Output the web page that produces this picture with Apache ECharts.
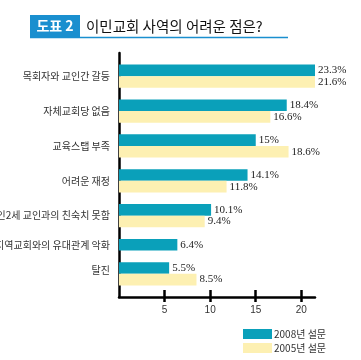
<!DOCTYPE html>
<html>
<head>
<meta charset="utf-8">
<script src="https://cdn.jsdelivr.net/npm/echarts@6/dist/echarts.min.js"></script>
<style>html,body{margin:0;padding:0;background:#fff;}#c{width:361px;height:360px;}</style>
</head>
<body>
<div id="c"></div>
<script>
var categories = ['목회자와 교인간 갈등', '자체교회당 없음', '교육스탭 부족', '어려운 재정', '한인2세 교인과의 친숙치 못함', '지역교회와의 유대관계 악화', '탈진'];
var values2008 = [23.3, 18.4, 15, 14.1, 10.1, 6.4, 5.5];
var values2005 = [21.6, 16.6, 18.6, 11.8, 9.4, null, 8.5];
var seriesNames = ['2008년 설문', '2005년 설문'];
var xTicks = [5, 10, 15, 20];
var titleTag = '도표 2';
var titleText = '이민교회 사역의 어려운 점은?';

// build slot table: one slot per bar plus gap slots
var slots = [], slotLabel = [], slotStyle = [], d2008 = [], d2005 = [];
function addSlot(label, style, a, b) {
  slots.push('s' + slots.length); slotLabel.push(label); slotStyle.push(style);
  d2008.push(a); d2005.push(b);
}
addSlot('', 'n', '-', '-');
for (var i = 0; i < categories.length; i++) {
  var has05 = values2005[i] !== null;
  var st = has05 ? (i === categories.length - 1 ? 'h' : 'd') : 'm';
  addSlot(categories[i], st, values2008[i], '-');
  if (has05) addSlot('', 'n', '-', values2005[i]);
  addSlot('', 'n', '-', '-');
}

var chart = echarts.init(document.getElementById('c'), null, {renderer: 'canvas'});
var lblFont = '"Noto Sans CJK KR", sans-serif';
var valLabel = {show: true, position: 'right', distance: 3, fontFamily: '"Liberation Serif", serif', fontSize: 11, color: '#222', formatter: '{c}%'};
chart.setOption({
  animation: false,
  backgroundColor: '#fff',
  graphic: [
    {type: 'rect', shape: {x: 30, y: 15, width: 50, height: 22}, style: {fill: '#1a8fcf'}},
    {type: 'text', x: 55, y: 26, style: {text: titleTag, fill: '#fff', font: 'bold 14px "Noto Sans CJK KR", sans-serif', align: 'center', verticalAlign: 'middle'}},
    {type: 'text', x: 86, y: 26, style: {text: titleText, fill: '#111', font: '14.5px "Noto Sans CJK KR", sans-serif', align: 'left', verticalAlign: 'middle'}},
    {type: 'line', shape: {x1: 30, y1: 37.5, x2: 288, y2: 37.5}, style: {stroke: '#1a8fcf', lineWidth: 1.5}}
  ],
  legend: {
    orient: 'vertical', left: 238, top: 324, itemWidth: 29, itemHeight: 10, itemGap: 4,
    icon: 'rect', data: seriesNames,
    textStyle: {fontSize: 10, color: '#333', fontFamily: lblFont, padding: [0, 0, 0, -3]}
  },
  grid: {left: 119, top: 53, width: 196, height: 244, containLabel: false, outerBoundsMode: 'none'},
  xAxis: [{
    type: 'value', min: 0, max: 21.5, position: 'bottom',
    axisLine: {show: true, lineStyle: {color: '#000', width: 2.5}},
    axisTick: {show: true, customValues: xTicks, length: 5, lineStyle: {color: '#000', width: 2.5}},
    axisLabel: {customValues: xTicks, fontSize: 10, color: '#333', margin: 8, fontFamily: '"Liberation Sans", sans-serif'},
    splitLine: {show: false}
  }, {
    type: 'value', min: 0, max: 21.5, position: 'bottom',
    axisLine: {show: false},
    axisTick: {show: true, inside: true, customValues: xTicks, length: 7, lineStyle: {color: '#000', width: 2.5}},
    axisLabel: {show: false},
    splitLine: {show: false}
  }],
  yAxis: {
    type: 'category', inverse: true, data: slots,
    axisLine: {show: true, lineStyle: {color: '#000', width: 2.5}},
    axisTick: {show: false},
    axisLabel: {
      interval: 0, margin: 9, color: '#333', fontSize: 10, fontFamily: lblFont,
      formatter: function (v, idx) {
        var t = slotLabel[idx];
        if (!t) return '';
        return '{' + slotStyle[idx] + '|' + t + '}';
      },
      rich: {
        d: {fontSize: 10, color: '#333', fontFamily: lblFont, padding: [11.6, 0, 0, 0]},
        h: {fontSize: 10, color: '#333', fontFamily: lblFont, padding: [5, 0, 0, 0]},
        m: {fontSize: 10, color: '#333', fontFamily: lblFont},
        n: {fontSize: 10}
      }
    },
    splitLine: {show: false}
  },
  series: [{
    name: seriesNames[0], type: 'bar', data: d2008, barGap: '-100%', barCategoryGap: '0%',
    itemStyle: {color: '#0aa0ba'}, label: valLabel
  }, {
    name: seriesNames[1], type: 'bar', data: d2005, barGap: '-100%', barCategoryGap: '0%',
    itemStyle: {color: '#fdf0b2'}, label: valLabel
  }]
});
</script>
</body>
</html>
